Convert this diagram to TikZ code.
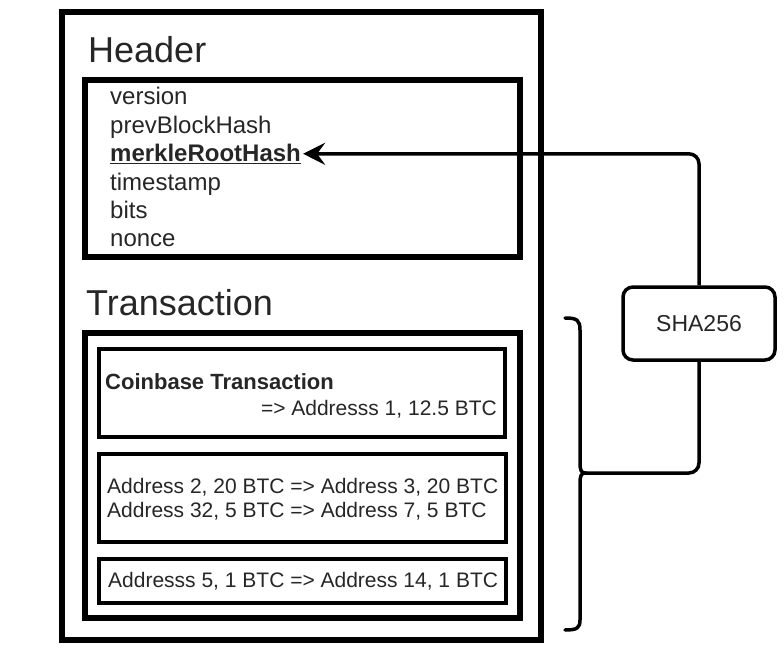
\documentclass[tikz,border=0pt]{standalone}
\usepackage{fontspec}
\setmainfont{Liberation Sans}
\usetikzlibrary{arrows.meta}
\begin{document}
\begin{tikzpicture}[x=1pt,y=-1pt,
  boxthick/.style={draw=black,line width=6pt,anchor=north west,inner sep=0pt,outer sep=0pt},
  boxthin/.style={draw=black,line width=3.5pt,anchor=north west,inner sep=0pt,outer sep=0pt},
  field/.style={anchor=base west,inner sep=0pt,text=black!85,font=\fontsize{24}{28}\selectfont},
  title/.style={anchor=base west,inner sep=0pt,text=black!85,font=\fontsize{36}{43}\selectfont},
  txt/.style={anchor=base west,inner sep=0pt,text=black!85,font=\fontsize{21}{25}\selectfont},
  conn/.style={draw=black,line width=3.5pt,rounded corners=10pt},
  hashbox/.style={draw=black,line width=3.5pt,rounded corners=10pt,minimum width=152pt,minimum height=73pt,inner sep=0pt,text=black!85,font=\fontsize{23}{27}\selectfont}
]
\useasboundingbox (0,0) rectangle (784,652);
% containers
\node[boxthick,minimum width=479pt,minimum height=628pt] (outer) at (62,12) {};
\node[boxthick,minimum width=435pt,minimum height=177pt] (hdrbox) at (85,80) {};
\node[boxthick,minimum width=435pt,minimum height=285pt] (txbox) at (85,333) {};
\node[boxthin,minimum width=406pt,minimum height=88pt] (cbbox) at (99,349) {};
\node[boxthin,minimum width=407pt,minimum height=88pt] (tx2box) at (99,454) {};
\node[boxthin,minimum width=407pt,minimum height=44pt] (tx3box) at (99,559) {};
% titles
\node[title] (hdrtitle) at (88,63) {Header};
\node[title] (txtitle) at (86,315) {Transaction};
% header fields
\node[field] (version) at (110,105) {version};
\node[field] (prev) at (110,133.4) {prevBlockHash};
\node[field] (merkle) at (110,161.8) {\textbf{\underline{merkleRootHash}}};
\node[field] (time) at (110,190.2) {timestamp};
\node[field] (bits) at (110,218.6) {bits};
\node[field] (nonce) at (110,247) {nonce};
% transactions
\node[txt,font=\bfseries\fontsize{22}{26}\selectfont] (cbtitle) at (105,389) {Coinbase Transaction};
\node[txt,anchor=base east] (cbout) at (497,415) {=> Addresss 1, 12.5 BTC};
\node[txt] (tx2a) at (107,493) {Address 2, 20 BTC => Address 3, 20 BTC};
\node[txt] (tx2b) at (107,517) {Address 32, 5 BTC => Address 7, 5 BTC};
\node[txt] (tx3) at (108,587) {Addresss 5, 1 BTC => Address 14, 1 BTC};
% hash box
\node[hashbox] (sha) at (699,323.5) {SHA256};
% brace
\coordinate (brtip) at (585,473);
\draw[line width=3.5pt,line cap=round]
  (565,318) .. controls (577,318) and (580,320) .. (580,330) -- (580,462)
  .. controls (580,470) and (581,473) .. (brtip)
  .. controls (581,473) and (580,476) .. (580,484) -- (580,620)
  .. controls (580,628) and (577,630) .. (565,630);
% connectors
\draw[conn] (brtip) -| (sha.south);
\draw[conn,-{Stealth[length=22pt,width=22pt,inset=8pt]}] (sha.north) |- ([xshift=2pt,yshift=8pt]merkle.base east);
\end{tikzpicture}
\end{document}
